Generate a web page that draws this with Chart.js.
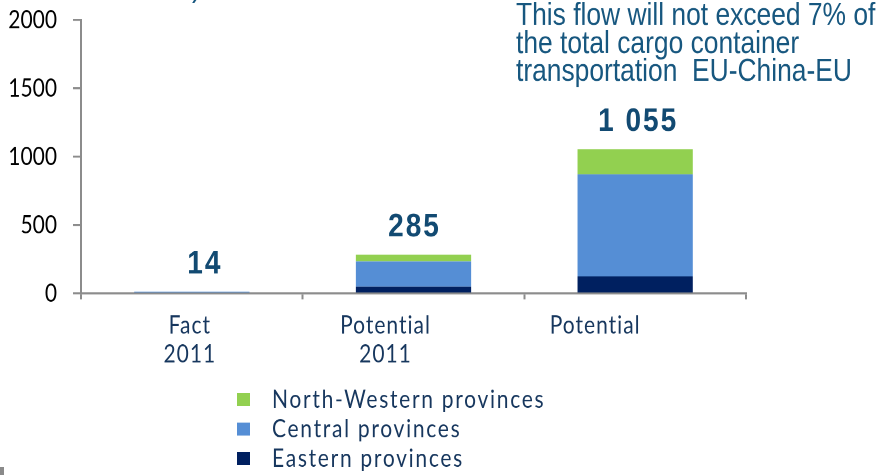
<!DOCTYPE html>
<html><head><meta charset="utf-8">
<script src="https://cdn.jsdelivr.net/npm/chart.js@4.4.1/dist/chart.umd.min.js"></script>
<style>
html,body{margin:0;padding:0;background:#fff;overflow:hidden}
#wrap{position:relative;width:878px;height:475px;overflow:hidden}
#c{display:block;transform:scaleY(1.1787);transform-origin:0 0}
</style>
</head><body><div id="wrap"><canvas id="c" width="878" height="403"></canvas></div>
<script>
// ---- data ----
const categories = [["Fact", "2011"], ["Potential", "2011"], ["Potential"]];
const eastern = [0, 50, 125];
const central = [14, 185, 747];
const northWestern = [0, 50, 183];
const seriesNames = ["Eastern provinces", "Central provinces", "North-Western provinces"];
const yTickValues = [0, 500, 1000, 1500, 2000];
const noteLines = ["This flow will not exceed 7% of", "the total cargo container", "transportation  EU-China-EU"];

// ---- styles ----
const colors = ["#002060", "#558ed5", "#92d050"];
const axisGrey = "#8c8c8c";
const labelBlue = "#124a72";
const noteBlue = "#17577f";
const navyText = "#17375e";
const xLabelShift = [-2, -28, -40];
const totalShift = [13, 1, 3];

const totals = categories.map((_, i) => eastern[i] + central[i] + northWestern[i]);
const fmt = n => n >= 1000 ? Math.floor(n / 1000) + " " + String(n % 1000).padStart(3, "0") : String(n);

const overlay = {
  id: "overlay",
  afterDraw(chart) {
    const { ctx, scales: { x, y } } = chart;
    ctx.save();
    // totals above bars
    ctx.font = 'bold 28px "Liberation Sans", Arial, sans-serif';
    ctx.letterSpacing = "2px";
    ctx.fillStyle = labelBlue;
    ctx.textAlign = "center";
    ctx.textBaseline = "alphabetic";
    totals.forEach((t, i) => {
      ctx.fillText(fmt(t), x.getPixelForValue(i) + totalShift[i], y.getPixelForValue(t) - 15.5);
    });
    // category labels
    ctx.font = '21px Lato, "Open Sans", sans-serif';
    ctx.letterSpacing = "1px";
    ctx.fillStyle = navyText;
    ctx.textBaseline = "middle";
    categories.forEach((lines, i) => {
      const cx = x.getPixelForValue(i) + xLabelShift[i];
      lines.forEach((ln, j) => ctx.fillText(ln, cx, y.bottom + 27 + j * 24.5));
    });
    // legend (reversed, vertical)
    ctx.textAlign = "left";
    ctx.letterSpacing = "1.7px";
    const order = [2, 1, 0];
    order.forEach((d, r) => {
      const cy = 339 + r * 25;
      ctx.fillStyle = colors[d];
      ctx.fillRect(237, cy - 5.5, 13, 11);
      ctx.fillStyle = navyText;
      ctx.fillText(seriesNames[d], 272, cy);
    });
    ctx.letterSpacing = "0px";
    // note text
    ctx.font = '26.4px "Liberation Sans", Arial, sans-serif';
    ctx.fillStyle = noteBlue;
    ctx.textBaseline = "alphabetic";
    noteLines.forEach((ln, j) => ctx.fillText(ln, 516, 21 + j * 23.8));
    ctx.fillText(")", 192, -3);
    // small grey mark
    ctx.fillStyle = "#8a8a8a";
    ctx.fillRect(0, 396, 4, 7);
    ctx.restore();
  }
};

Chart.defaults.font.family = "Lato";
new Chart(document.getElementById("c"), {
  type: "bar",
  data: {
    labels: categories,
    datasets: [
      { label: seriesNames[0], data: eastern, backgroundColor: colors[0] },
      { label: seriesNames[1], data: central, backgroundColor: colors[1] },
      { label: seriesNames[2], data: northWestern, backgroundColor: colors[2] }
    ]
  },
  options: {
    responsive: false,
    devicePixelRatio: 2,
    animation: false,
    layout: { padding: { top: 17, right: 132, left: 0, bottom: 0 } },
    datasets: { bar: { categoryPercentage: 1, barPercentage: 0.52 } },
    plugins: { legend: { display: false }, tooltip: { enabled: false } },
    scales: {
      x: {
        stacked: true,
        afterFit: s => { s.height = 154; s.paddingLeft = 0; s.paddingRight = 0; },
        grid: { offset: true, drawOnChartArea: false, drawTicks: true, tickLength: 5, color: axisGrey, lineWidth: 2 },
        border: { color: axisGrey, width: 1.7 },
        ticks: { color: "rgba(0,0,0,0)", font: { size: 12 } }
      },
      y: {
        stacked: true,
        min: 0, max: 2000,
        afterFit: s => { s.width = 81; s.paddingTop = 0; s.paddingBottom = 0; },
        afterBuildTicks: s => { s.ticks = yTickValues.map(v => ({ value: v })); },
        grid: { drawOnChartArea: false, drawTicks: true, tickLength: 8, color: axisGrey, lineWidth: 1.7 },
        border: { color: axisGrey, width: 2 },
        ticks: { color: "#000", padding: 16, font: { size: 21, family: "Lato" }, callback: v => String(v) }
      }
    }
  },
  plugins: [overlay]
});
</script>
</body></html>
